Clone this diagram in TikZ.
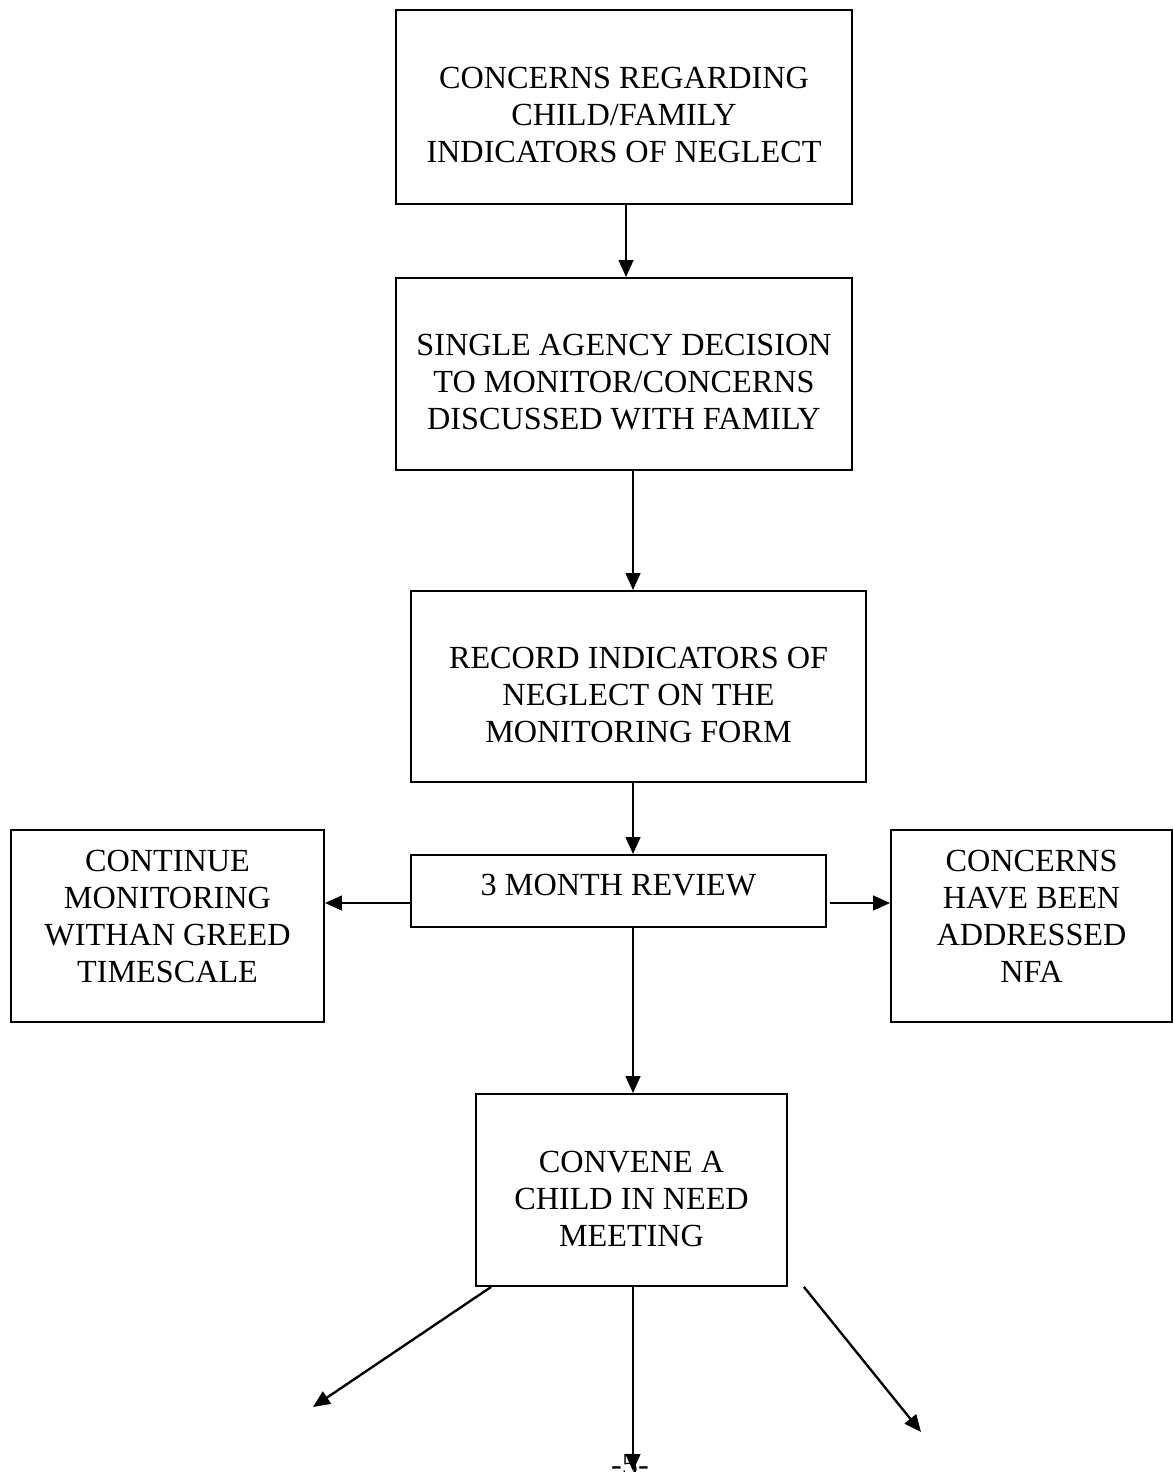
\documentclass[tikz,border=0pt]{standalone}
\usepackage{fontspec}
\setmainfont{Liberation Serif}
\usetikzlibrary{arrows.meta, positioning, calc}

\begin{document}
\begin{tikzpicture}[
    x=0.3833pt, y=-0.3833pt,
    >={Triangle[length=6.5pt, width=5.6pt]},
    box/.style = {rectangle, draw, line width=0.7pt, inner sep=0pt},
    boxtext/.style = {align=center, inner sep=0pt, font=\fontsize{12.35}{14.2}\selectfont},
    arrow/.style = {draw, ->, line width=0.9pt}
]
    \useasboundingbox (0,0) rectangle (1173,1472);

    \node [box, minimum width=174.8pt, minimum height=74.4pt,
        label={[boxtext, yshift=-3.2pt]center:{CONCERNS REGARDING\\CHILD/FAMILY\\INDICATORS OF NEGLECT}}] (concerns) at (624,107) {};
    \node [box, minimum width=174.8pt, minimum height=73.6pt,
        label={[boxtext, yshift=-3.1pt]center:{SINGLE AGENCY DECISION\\TO MONITOR/CONCERNS\\DISCUSSED WITH FAMILY}}] (agency) at (624,374) {};
    \node [box, minimum width=174.4pt, minimum height=73.2pt,
        label={[boxtext, yshift=-3.2pt]center:{RECORD INDICATORS OF\\NEGLECT ON THE\\MONITORING FORM}}] (record) at (638.5,686.5) {};
    \node [box, minimum width=159.1pt, minimum height=27.6pt,
        label={[boxtext, yshift=2.3pt]center:{3 MONTH REVIEW}}] (review) at (618.5,891) {};
    \node [box, minimum width=120pt, minimum height=73.6pt,
        label={[boxtext, yshift=3.6pt]center:{CONTINUE\\MONITORING\\WITHAN GREED\\TIMESCALE}}] (monitor) at (167.5,926) {};
    \node [box, minimum width=107.7pt, minimum height=73.6pt,
        label={[boxtext, yshift=3.6pt]center:{CONCERNS\\HAVE BEEN\\ADDRESSED\\NFA}}] (addressed) at (1031.5,926) {};
    \node [box, minimum width=119.2pt, minimum height=73.6pt,
        label={[boxtext, yshift=-3.4pt]center:{CONVENE A\\CHILD IN NEED\\MEETING}}] (convene) at (631.5,1190) {};

    \node [boxtext, anchor=base] (pagenum) at (630,1475) {-5-};

    % free ends of the last three arrows
    \coordinate (leftend) at (313,1407);
    \coordinate (midend) at (633,1471);
    \coordinate (rightend) at (921,1432);

    \draw [arrow] ($(concerns.south)+(2,0)$) -- ($(agency.north)+(2,0)$);
    \draw [arrow] ($(agency.south)+(9,0)$) -- ($(record.north)+(-5.5,0)$);
    \draw [arrow] ($(record.south)+(-5.5,0)$) -- ($(review.north)+(14.5,0)$);
    \draw [arrow] ($(review.west)+(0,12)$) -- ($(monitor.east)+(0,-23)$);
    \draw [arrow] ($(review.east)+(3,12)$) -- ($(addressed.west)+(0,-23)$);
    \draw [arrow] ($(review.south)+(14.5,0)$) -- ($(convene.north)+(1.5,0)$);
    \draw [arrow] ($(convene.south west)+(16,0)$) -- (leftend);
    \draw [arrow] ($(convene.south)+(1.5,0)$) -- (midend);
    \draw [arrow] ($(convene.south east)+(16,0)$) -- (rightend);
\end{tikzpicture}
\end{document}
